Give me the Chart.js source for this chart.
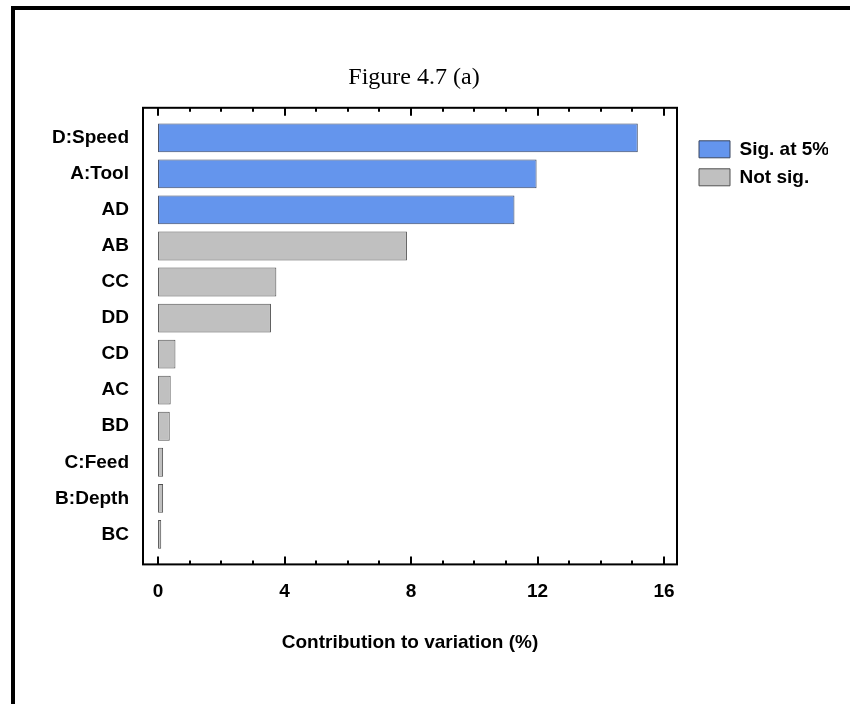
<!DOCTYPE html>
<html>
<head>
<meta charset="utf-8">
<script src="https://cdn.jsdelivr.net/npm/chart.js@4.4.1/dist/chart.umd.min.js"></script>
<style>
  html, body { margin: 0; padding: 0; background: #fff; }
  #wrap { position: relative; width: 850px; height: 704px; overflow: hidden; }
  #frame {
    position: absolute; left: 11px; top: 6px; right: -10px; bottom: -10px;
    border-left: 4px solid #000; border-top: 4px solid #000;
  }
  #chart { position: absolute; left: 0; top: 0; }
</style>
</head>
<body>
<div id="wrap">
  <div id="frame"></div>
  <canvas id="chart" width="850" height="704"></canvas>
</div>
<script>
// effects, largest first
const effects = ['D:Speed', 'A:Tool', 'AD', 'AB', 'CC', 'DD', 'CD', 'AC', 'BD', 'C:Feed', 'B:Depth', 'BC'];
// contribution (%) of the significant effects (5% level)
const sigValues = [15.17, 11.97, 11.27, null, null, null, null, null, null, null, null, null];
// contribution (%) of the others
const notSigValues = [null, null, null, 7.87, 3.74, 3.57, 0.55, 0.40, 0.37, 0.16, 0.16, 0.10];
const xTickValues = [0, 4, 8, 12, 16];
const minorTickValues = [0, 1, 2, 3, 4, 5, 6, 7, 8, 9, 10, 11, 12, 13, 14, 15, 16];

const font = 'Liberation Sans';

// box round the plot with tick marks pointing inwards
const boxPlugin = {
  id: 'box',
  afterDatasetsDraw(chart) {
    const { ctx, chartArea } = chart;
    const xs = chart.scales.x;
    const top = chartArea.top - 12;
    const bottom = chartArea.bottom + 12;
    ctx.save();
    ctx.strokeStyle = '#000';
    ctx.lineWidth = 2;
    ctx.strokeRect(chartArea.left, top, chartArea.right - chartArea.left, bottom - top);
    minorTickValues.forEach(v => {
      const px = Math.round(xs.getPixelForValue(v));
      const len = v % 4 === 0 ? 8 : 4;
      ctx.beginPath();
      ctx.moveTo(px, bottom);
      ctx.lineTo(px, bottom - len);
      ctx.moveTo(px, top);
      ctx.lineTo(px, top + len);
      ctx.stroke();
    });
    ctx.restore();
  }
};

const ctx = document.getElementById('chart').getContext('2d');
new Chart(ctx, {
  type: 'bar',
  data: {
    labels: effects,
    datasets: [
      {
        label: 'Sig. at 5%',
        data: sigValues,
        backgroundColor: '#6495ed',
        borderColor: '#3a4660',
        borderWidth: 1,
        borderSkipped: false,
        grouped: false,
        barPercentage: 0.8,
        categoryPercentage: 1
      },
      {
        label: 'Not sig.',
        data: notSigValues,
        backgroundColor: '#c0c0c0',
        borderColor: '#505050',
        borderWidth: 1,
        borderSkipped: false,
        grouped: false,
        barPercentage: 0.8,
        categoryPercentage: 1
      }
    ]
  },
  options: {
    indexAxis: 'y',
    responsive: false,
    animation: false,
    layout: { padding: { left: 0, right: 22, top: 0, bottom: 40 } },
    scales: {
      x: {
        type: 'linear',
        min: -0.476,
        max: 16.41,
        grid: { display: false, drawTicks: false },
        border: { display: false },
        afterBuildTicks(scale) {
          scale.ticks = xTickValues.map(v => ({ value: v }));
        },
        ticks: {
          padding: 28,
          color: '#000',
          font: { family: font, size: 19, weight: 'bold' }
        },
        title: {
          display: true,
          text: 'Contribution to variation (%)',
          color: '#000',
          padding: { top: 0, bottom: 10 },
          font: { family: font, size: 19, weight: 'bold' }
        }
      },
      y: {
        grid: { display: false, drawTicks: false },
        border: { display: false },
        afterFit(scale) { scale.width = 143; },
        ticks: {
          padding: 14,
          color: '#000',
          font: { family: font, size: 19, weight: 'bold' }
        }
      },
      gap: {
        type: 'linear',
        position: 'right',
        grid: { display: false, drawTicks: false },
        border: { display: false },
        ticks: { display: false },
        afterFit(scale) { scale.width = 13; }
      }
    },
    plugins: {
      title: {
        display: true,
        text: 'Figure 4.7 (a)',
        color: '#000',
        padding: { top: 63, bottom: 28 },
        font: { family: 'Liberation Serif', size: 24, weight: 'normal' }
      },
      legend: {
        position: 'right',
        align: 'start',
        fullSize: false,
        title: { display: true, text: '', font: { size: 5 }, padding: { top: 0, bottom: 5 } },
        labels: {
          boxWidth: 31,
          boxHeight: 17,
          padding: 9,
          color: '#000',
          font: { family: font, size: 19, weight: 'bold' }
        }
      },
      tooltip: { enabled: false }
    }
  },
  plugins: [boxPlugin]
});
</script>
</body>
</html>
